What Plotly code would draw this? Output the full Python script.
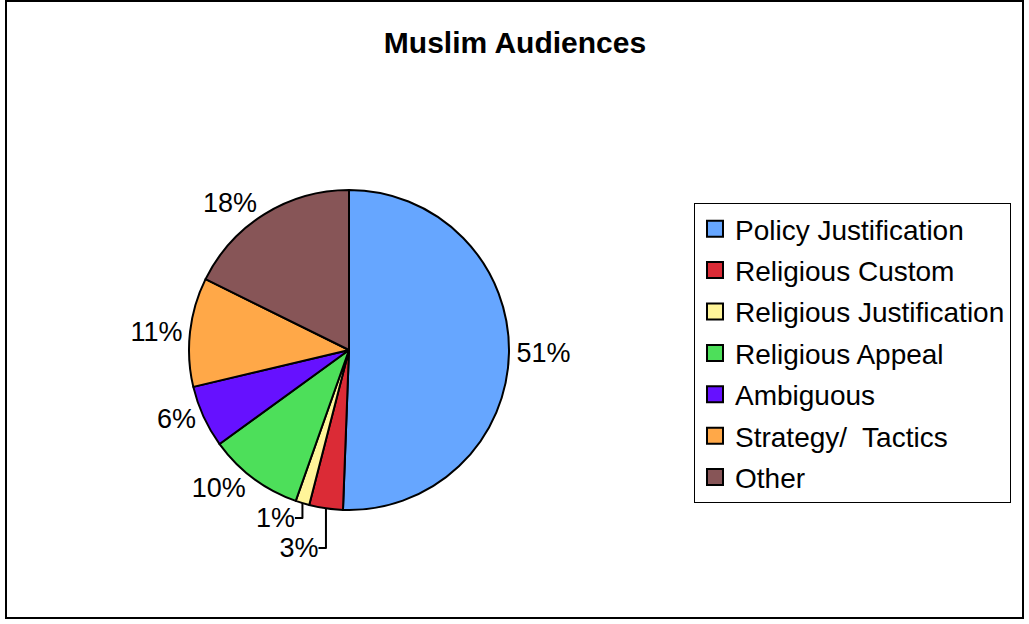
import plotly.graph_objects as go

categories = ["Policy Justification", "Religious Custom", "Religious Justification",
              "Religious Appeal", "Ambiguous", "Strategy/  Tactics", "Other"]
values = [50.6, 3.4, 1.4, 9.6, 6.3, 11.0, 17.7]
colors = ["#66A6FF", "#DB2B36", "#FFF599", "#4DDF5A", "#6611FF", "#FFA848", "#875557"]

W, H = 1029, 624
FONT = "Liberation Sans, Arial, sans-serif"

def px_x(x):
    return x / W

def px_y(y):
    return 1 - y / H

fig = go.Figure()

fig.add_trace(go.Pie(
    labels=categories,
    values=values,
    marker=dict(colors=colors, line=dict(color="black", width=2)),
    sort=False,
    direction="clockwise",
    rotation=0,
    textposition="outside",
    texttemplate="%{percent:.0%}",
    textfont=dict(family=FONT, size=27, color="black"),
    showlegend=False,
    domain=dict(x=[px_x(189), px_x(509)], y=[px_y(510), px_y(190)]),
    hoverinfo="label+percent",
))

for i, (cat, col) in enumerate(zip(categories, colors)):
    fig.add_trace(go.Scatter(
        x=[None], y=[None], mode="markers", name=cat,
        legendgroup="g%d" % i,
        marker=dict(symbol="square", size=16, color=col, line=dict(color="black", width=2)),
        showlegend=True,
    ))

fig.update_layout(
    width=W, height=H,
    margin=dict(l=0, r=0, t=0, b=0),
    paper_bgcolor="white",
    plot_bgcolor="white",
    title=dict(text="<b>Muslim Audiences</b>", x=px_x(515), xanchor="center",
               y=px_y(42), yanchor="middle",
               font=dict(family=FONT, size=30, color="black")),
    xaxis=dict(visible=False),
    yaxis=dict(visible=False),
    legend=dict(
        x=px_x(694), y=px_y(203), xanchor="left", yanchor="top",
        bgcolor="white", bordercolor="black", borderwidth=1,
        font=dict(family=FONT, size=28, color="black"),
        traceorder="grouped", tracegroupgap=2, itemwidth=30,
    ),
    shapes=[dict(type="rect", xref="paper", yref="paper",
                 x0=px_x(6), x1=px_x(1023), y0=px_y(618), y1=px_y(1),
                 line=dict(color="black", width=2), fillcolor="rgba(0,0,0,0)")],
)

fig.write_html("out.html", config={"displayModeBar": False},
               post_script="document.body.style.margin='0';document.body.style.overflow='hidden';")
